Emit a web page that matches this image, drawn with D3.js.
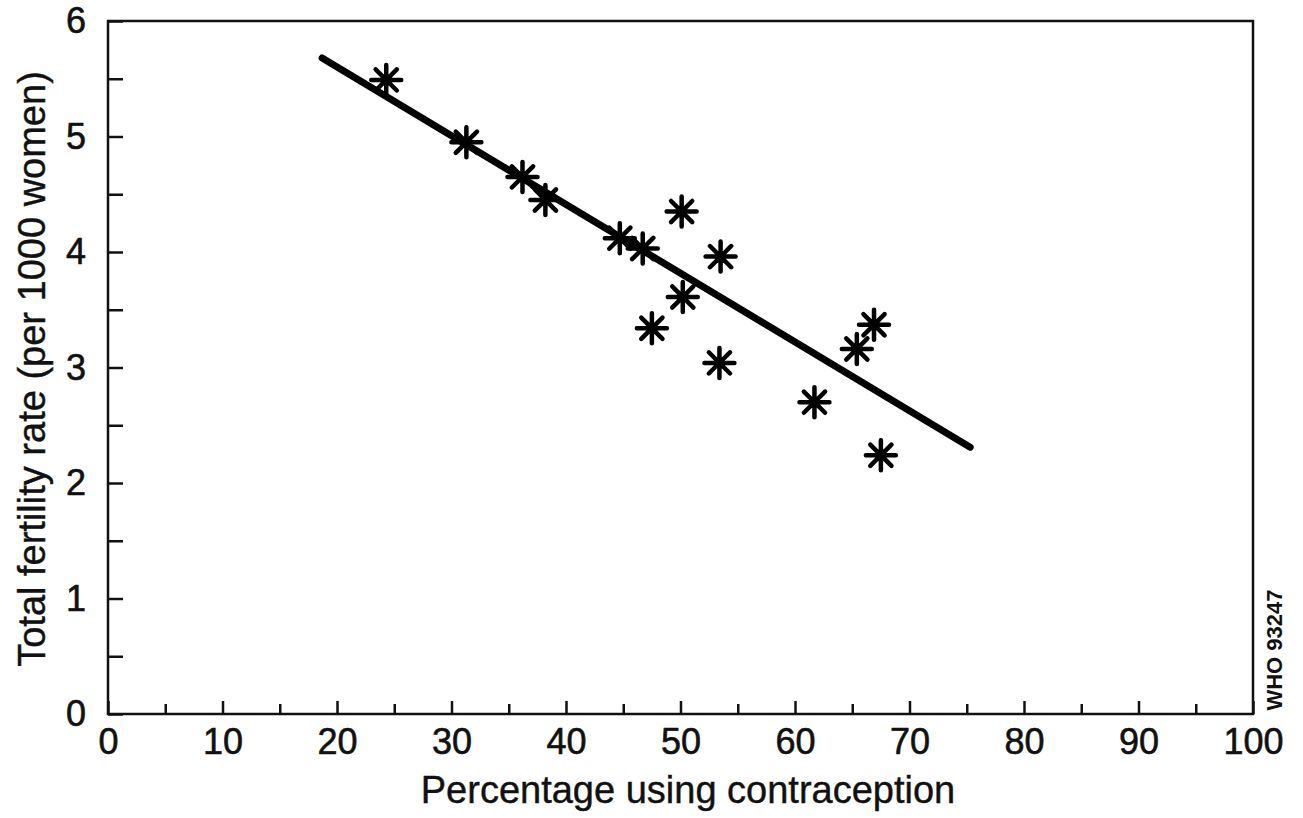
<!DOCTYPE html>
<html>
<head>
<meta charset="utf-8">
<script src="https://cdn.jsdelivr.net/npm/d3@7"></script>
<style>
  body { margin: 0; background: #fff; }
  svg text { font-family: "Liberation Sans", Arial, sans-serif; fill: #111; }
</style>
</head>
<body>
<div id="chart"></div>
<script>
// contraception use (%) vs total fertility rate
const pctContraception = [24.3, 31.3, 36.2, 38.2, 44.7, 46.7, 50.1, 53.5, 50.2, 47.5, 53.4, 61.7, 65.4, 66.9, 67.5];
const fertilityRate    = [5.49, 4.95, 4.65, 4.45, 4.12, 4.03, 4.35, 3.96, 3.61, 3.34, 3.04, 2.70, 3.16, 3.37, 2.24];

// fitted regression line, end points
const fitX = [18.7, 75.3];
const fitY = [5.68, 2.31];

const xMajorTicks = [0, 10, 20, 30, 40, 50, 60, 70, 80, 90, 100];
const xMinorTicks = [5, 15, 25, 35, 45, 55, 65, 75, 85, 95];
const yMajorTicks = [0, 1, 2, 3, 4, 5, 6];
const yMinorTicks = [0.5, 1.5, 2.5, 3.5, 4.5, 5.5];

const width = 1303,
    height = 818,
    margin = {top: 21, right: 50, bottom: 104, left: 108};

const x = d3.scaleLinear().domain([0, 100]).range([margin.left, width - margin.right]);
const y = d3.scaleLinear().domain([0, 6]).range([height - margin.bottom, margin.top]);

const svg = d3.select("#chart")
    .append("svg")
    .attr("width", width)
    .attr("height", height);

// frame
svg.append("rect")
    .attr("x", x(0))
    .attr("y", y(6))
    .attr("width", x(100) - x(0))
    .attr("height", y(0) - y(6))
    .attr("fill", "none")
    .attr("stroke", "#111")
    .attr("stroke-width", 2.5);

const styleAxis = g => {
    g.select(".domain").remove();
    g.selectAll(".tick line").attr("stroke", "#111").attr("stroke-width", 2.5);
    g.selectAll(".tick text")
        .attr("font-size", 36)
        .attr("fill", "#111")
        .attr("stroke", "#111")
        .attr("stroke-width", 0.6);
};

svg.append("g")
    .attr("transform", `translate(0,${y(0)})`)
    .call(d3.axisBottom(x).tickValues(xMajorTicks).tickFormat(d3.format("d")).tickSize(-13).tickPadding(14))
    .call(styleAxis);

svg.append("g")
    .attr("transform", `translate(0,${y(0)})`)
    .call(d3.axisBottom(x).tickValues(xMinorTicks).tickSize(-10).tickFormat(""))
    .call(styleAxis);

svg.append("g")
    .attr("transform", `translate(${x(0)},0)`)
    .call(d3.axisLeft(y).tickValues(yMajorTicks).tickFormat(d3.format("d")).tickSize(-15).tickPadding(22))
    .call(styleAxis);

svg.append("g")
    .attr("transform", `translate(${x(0)},0)`)
    .call(d3.axisLeft(y).tickValues(yMinorTicks).tickSize(-15).tickFormat(""))
    .call(styleAxis);

// regression line
svg.append("path")
    .datum(d3.zip(fitX, fitY))
    .attr("fill", "none")
    .attr("stroke", "#000")
    .attr("stroke-width", 7)
    .attr("stroke-linecap", "round")
    .attr("d", d3.line().x(d => x(d[0])).y(d => y(d[1])));

// asterisk markers
const r = 15;
const star = `M${-r},0L${r},0M0,${-r}L0,${r}`
    + `M${-r * 0.707},${-r * 0.707}L${r * 0.707},${r * 0.707}`
    + `M${-r * 0.707},${r * 0.707}L${r * 0.707},${-r * 0.707}`;

svg.append("g")
    .selectAll("path")
    .data(d3.range(pctContraception.length))
    .join("path")
    .attr("transform", i => `translate(${x(pctContraception[i])},${y(fertilityRate[i])})`)
    .attr("d", star)
    .attr("stroke", "#000")
    .attr("stroke-width", 4.5)
    .attr("stroke-linecap", "round");

// titles
svg.append("text")
    .attr("x", 688)
    .attr("y", 803)
    .attr("text-anchor", "middle")
    .attr("font-size", 38)
    .attr("stroke", "#111")
    .attr("stroke-width", 0.4)
    .text("Percentage using contraception");

svg.append("text")
    .attr("transform", "translate(45,369) rotate(-90)")
    .attr("text-anchor", "middle")
    .attr("font-size", 38)
    .attr("stroke", "#111")
    .attr("stroke-width", 0.4)
    .text("Total fertility rate (per 1000 women)");

svg.append("text")
    .attr("transform", "translate(1282,650) rotate(-90)")
    .attr("text-anchor", "middle")
    .attr("font-size", 22)
    .attr("font-weight", "bold")
    .text("WHO 93247");
</script>
</body>
</html>
